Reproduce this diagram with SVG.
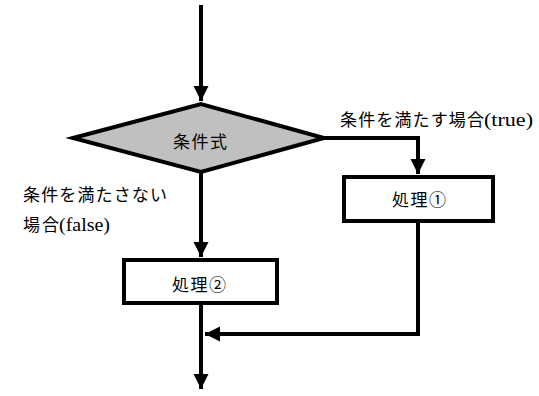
<svg xmlns="http://www.w3.org/2000/svg" width="539" height="396" viewBox="0 0 539 396">
<style>
.ln{fill:none;stroke:#000;stroke-width:4;marker-end:url(#ah)}
.box{fill:#fff;stroke:#000;stroke-width:4}
.dia{fill:#c0c0c0;stroke:#000;stroke-width:4;stroke-linejoin:miter}
.jp{font-family:"Noto Sans CJK JP","Noto Sans CJK SC",sans-serif;font-size:17px;fill:#000}
.lat{font-family:"Liberation Serif",serif;font-size:19px;fill:#000}
.c{text-anchor:middle}
</style>
<defs>
<marker id="ah" markerUnits="userSpaceOnUse" markerWidth="16" markerHeight="16" refX="15" refY="8" orient="auto">
<path d="M0,0.5 L15,8 L0,15.5 z" fill="#000"/>
</marker>
</defs>
<g id="connectors">
<path class="ln" d="M201,5 V101"/>
<path class="ln" d="M325,138 H418 V174"/>
<path class="ln" d="M201,172 V257"/>
<path class="ln" d="M418,221 V334 H205"/>
<path class="ln" d="M201,303 V389"/>
</g>
<g id="decision">
<polygon class="dia" points="73,138 201,104 324,138 201,172"/>
<text class="jp c" x="200" y="148" textLength="54">条件式</text>
</g>
<g id="process1">
<rect class="box" x="344" y="177" width="149" height="44"/>
<text class="jp c" x="419" y="206" textLength="54">処理①</text>
</g>
<g id="process2">
<rect class="box" x="124" y="260" width="153" height="43"/>
<text class="jp c" x="199" y="291" textLength="54">処理②</text>
</g>
<g id="label-true">
<text class="jp" x="340" y="126" textLength="144">条件を満たす場合</text>
<text class="lat" x="484" y="126" textLength="49" lengthAdjust="spacingAndGlyphs">(true)</text>
</g>
<g id="label-false">
<text class="jp" x="23" y="201" textLength="144">条件を満たさない</text>
<text class="jp" x="23" y="231" textLength="36">場合</text>
<text class="lat" x="59" y="231" textLength="51" lengthAdjust="spacingAndGlyphs">(false)</text>
</g>
</svg>
